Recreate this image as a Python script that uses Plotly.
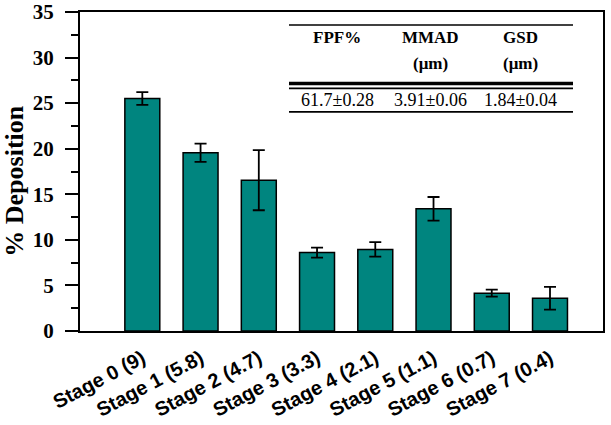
import plotly.graph_objects as go

categories = ["Stage 0 (9)", "Stage 1 (5.8)", "Stage 2 (4.7)", "Stage 3 (3.3)",
              "Stage 4 (2.1)", "Stage 5 (1.1)", "Stage 6 (0.7)", "Stage 7 (0.4)"]
deposition = [25.5, 19.55, 16.55, 8.6, 8.95, 13.4, 4.15, 3.6]
errors = [0.7, 1.0, 3.3, 0.55, 0.8, 1.3, 0.38, 1.25]
y_ticks = [0, 5, 10, 15, 20, 25, 30, 35]

table_headers = ["FPF%", "MMAD", "GSD"]
table_units = ["", "(μm)", "(μm)"]
table_values = ["61.7±0.28", "3.91±0.06", "1.84±0.04"]

W, H = 611, 425
L, R, T, B = 80, 8, 12, 93.5
PW, PH = W - L - R, H - T - B

def px(x):
    return (x - L) / PW

def py(y):
    return (H - B - y) / PH

fig = go.Figure()
fig.add_trace(go.Bar(
    x=list(range(len(categories))), y=deposition,
    width=0.6,
    marker=dict(color="#00857f", line=dict(color="black", width=1.5)),
    error_y=dict(type="data", array=errors, visible=True, color="black",
                 thickness=1.8, width=6),
))

serif = "Liberation Serif"
sans = "Liberation Sans"

annotations = []
shapes = []
col_x = [337, 430, 520]
for cx, h, u, v in zip(col_x, table_headers, table_units, table_values):
    annotations.append(dict(x=px(cx), y=py(38), xref="paper", yref="paper",
                            xanchor="center", yanchor="middle",
                            text=h, showarrow=False,
                            font=dict(family=serif, size=17, color="black", weight="bold")))
    if u:
        annotations.append(dict(x=px(cx), y=py(64), xref="paper", yref="paper",
                                xanchor="center", yanchor="middle",
                                text=u, showarrow=False,
                                font=dict(family=serif, size=17, color="black", weight="bold")))
    annotations.append(dict(x=px(cx), y=py(100), xref="paper", yref="paper",
                            xanchor="center", yanchor="middle",
                            text=v, showarrow=False,
                            font=dict(family=serif, size=18, color="black")))

for yy, lw in [(25, 1.6), (83.5, 3.5), (88.5, 1.6), (112, 1.6)]:
    shapes.append(dict(type="line", xref="paper", yref="paper",
                       x0=px(289), x1=px(573), y0=py(yy), y1=py(yy),
                       line=dict(color="black", width=lw)))

annotations.append(dict(x=px(15), y=py(181), xref="paper", yref="paper",
                        xanchor="center", yanchor="middle",
                        text="% Deposition", textangle=-90, showarrow=False,
                        font=dict(family=serif, size=26, color="black", weight="bold")))

fig.update_layout(
    template="none",
    width=W, height=H,
    margin=dict(l=L, r=R, t=T, b=B, autoexpand=False),
    paper_bgcolor="white", plot_bgcolor="white",
    showlegend=False,
    annotations=annotations, shapes=shapes,
    xaxis=dict(
        range=[-1.07, 7.91], automargin=False,
        tickmode="array", tickvals=list(range(len(categories))), ticktext=categories,
        tickangle=-28,
        tickfont=dict(family=sans, size=20, color="black", weight="bold"),
        showline=True, linecolor="black", linewidth=2, mirror=True,
        ticks="", showgrid=False, zeroline=False,
        ticklabelstandoff=6,
    ),
    yaxis=dict(
        range=[0, 35], automargin=False, tickmode="array", tickvals=y_ticks,
        ticklabeloverflow="allow",
        tickfont=dict(family=serif, size=21, color="black", weight="bold"),
        showline=True, linecolor="black", linewidth=2, mirror=True,
        ticks="outside", ticklen=13, tickwidth=2, tickcolor="black",
        minor=dict(dtick=2.5, ticks="outside", ticklen=7, tickwidth=1.5, tickcolor="black"),
        showgrid=False, zeroline=False,
        ticklabelstandoff=7,
    ),
)

fig.write_html("out.html")
